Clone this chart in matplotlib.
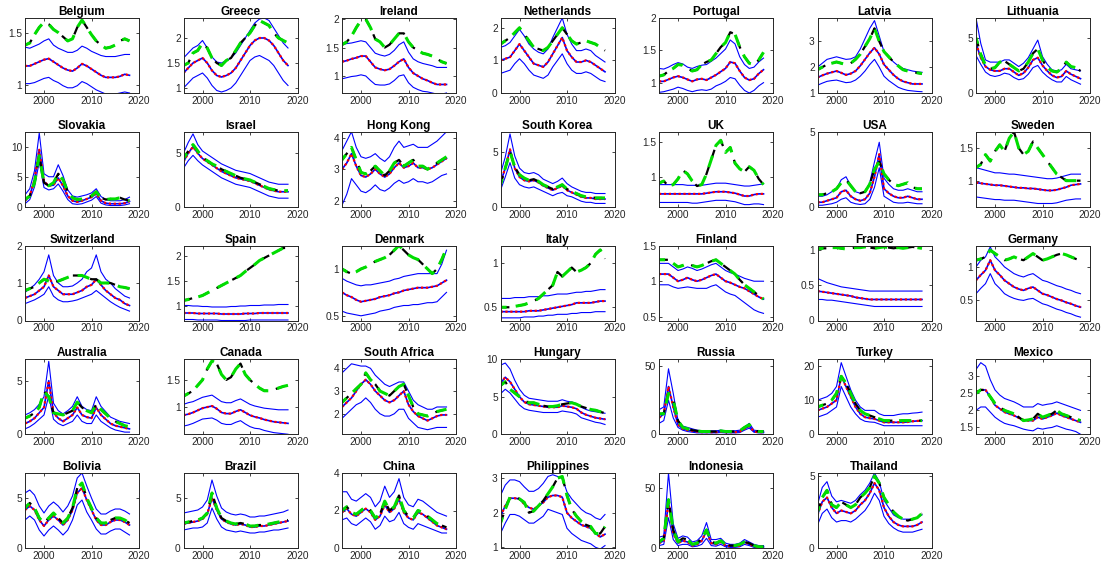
import matplotlib
matplotlib.use("Agg")
import matplotlib.pyplot as plt
import numpy as np

plt.rcParams['font.family'] = ['Liberation Sans', 'DejaVu Sans']

years = list(range(1996, 2019))

bel_act = [1.38,1.40,1.48,1.55,1.60,1.58,1.53,1.50,1.46,1.42,1.44,1.55,1.62,1.55,1.48,1.42,1.38,1.35,1.36,1.38,1.42,1.44,1.42]
bel_mid = [1.18,1.18,1.20,1.22,1.24,1.25,1.22,1.19,1.16,1.14,1.13,1.16,1.20,1.18,1.15,1.12,1.09,1.07,1.07,1.07,1.08,1.10,1.09]
bel_hi = [1.36,1.35,1.37,1.39,1.42,1.44,1.38,1.35,1.33,1.31,1.31,1.33,1.37,1.35,1.32,1.30,1.28,1.27,1.27,1.27,1.28,1.29,1.29]
bel_lo = [1.01,1.01,1.02,1.04,1.06,1.07,1.04,1.02,0.99,0.97,0.97,0.99,1.03,1.01,0.98,0.95,0.93,0.91,0.91,0.91,0.92,0.93,0.92]

grc_act = [1.45,1.50,1.70,1.75,1.90,1.80,1.60,1.50,1.45,1.55,1.60,1.75,1.90,2.00,2.10,2.25,2.35,2.30,2.25,2.10,2.00,1.95,1.90]
grc_mid = [1.30,1.40,1.50,1.55,1.60,1.50,1.35,1.25,1.22,1.25,1.30,1.40,1.55,1.70,1.85,1.95,2.00,2.00,1.95,1.85,1.70,1.55,1.45]
grc_hi = [1.60,1.70,1.80,1.85,1.95,1.80,1.62,1.52,1.50,1.55,1.60,1.70,1.85,2.00,2.15,2.30,2.38,2.40,2.35,2.20,2.05,1.90,1.80]
grc_lo = [1.00,1.10,1.20,1.25,1.30,1.20,1.05,0.95,0.92,0.95,1.00,1.10,1.25,1.40,1.55,1.62,1.65,1.60,1.55,1.45,1.30,1.15,1.05]

irl_act = [1.55,1.60,1.70,1.85,1.98,2.00,1.85,1.65,1.60,1.50,1.55,1.65,1.75,1.75,1.60,1.50,1.45,1.40,1.38,1.35,1.30,1.25,1.22]
irl_mid = [1.25,1.27,1.30,1.32,1.35,1.35,1.25,1.15,1.12,1.10,1.12,1.18,1.25,1.30,1.15,1.05,1.00,0.95,0.92,0.88,0.85,0.85,0.85]
irl_hi = [1.55,1.57,1.58,1.60,1.62,1.60,1.50,1.40,1.37,1.35,1.38,1.45,1.55,1.60,1.42,1.30,1.25,1.22,1.20,1.18,1.15,1.15,1.15]
irl_lo = [0.95,0.97,0.99,1.00,1.02,1.00,0.92,0.85,0.84,0.84,0.86,0.92,1.00,1.02,0.88,0.80,0.76,0.73,0.72,0.70,0.68,0.68,0.70]

nld_act = [1.50,1.60,1.70,1.85,2.00,1.80,1.60,1.40,1.35,1.30,1.40,1.60,1.80,2.00,1.80,1.60,1.50,1.55,1.60,1.55,1.50,1.40,1.30]
nld_mid = [1.00,1.05,1.10,1.30,1.50,1.30,1.10,0.90,0.85,0.80,0.95,1.20,1.45,1.70,1.30,1.10,0.95,0.95,1.00,0.95,0.85,0.75,0.65]
nld_hi = [1.40,1.45,1.55,1.75,1.95,1.75,1.50,1.35,1.25,1.20,1.35,1.70,2.00,2.30,1.80,1.50,1.30,1.30,1.35,1.30,1.15,1.05,0.95]
nld_lo = [0.60,0.65,0.70,0.90,1.05,0.90,0.70,0.55,0.50,0.45,0.55,0.80,1.00,1.20,0.90,0.70,0.60,0.60,0.65,0.60,0.50,0.40,0.35]

prt_act = [1.10,1.12,1.18,1.22,1.28,1.27,1.22,1.18,1.20,1.28,1.32,1.35,1.45,1.55,1.62,1.78,1.75,1.55,1.40,1.30,1.28,1.35,1.47]
prt_mid = [1.02,1.02,1.05,1.08,1.10,1.08,1.05,1.02,1.05,1.06,1.04,1.08,1.12,1.17,1.22,1.32,1.30,1.18,1.08,1.04,1.06,1.14,1.20]
prt_hi = [1.22,1.21,1.24,1.28,1.31,1.29,1.24,1.22,1.25,1.27,1.28,1.33,1.38,1.45,1.52,1.66,1.60,1.40,1.28,1.22,1.24,1.32,1.38]
prt_lo = [0.85,0.86,0.88,0.90,0.93,0.91,0.88,0.86,0.88,0.89,0.88,0.90,0.95,0.98,1.02,1.08,1.06,0.96,0.88,0.84,0.88,0.95,1.00]

lva_act = [1.90,2.00,2.10,2.15,2.20,2.15,2.10,2.15,2.30,2.50,2.80,3.10,3.50,3.00,2.60,2.40,2.20,2.05,1.90,1.85,1.80,1.78,1.75]
lva_mid = [1.60,1.68,1.75,1.80,1.85,1.78,1.70,1.75,1.85,2.05,2.30,2.55,2.75,2.50,2.10,1.90,1.70,1.55,1.45,1.40,1.35,1.35,1.35]
lva_hi = [2.00,2.15,2.30,2.35,2.40,2.35,2.30,2.32,2.40,2.70,3.10,3.50,3.80,3.20,2.60,2.40,2.20,2.05,1.95,1.90,1.85,1.82,1.80]
lva_lo = [1.30,1.38,1.45,1.48,1.50,1.45,1.40,1.42,1.50,1.65,1.85,2.10,2.30,2.00,1.65,1.48,1.35,1.22,1.15,1.10,1.08,1.06,1.05]

ltu_act = [5.0,3.5,2.5,2.2,2.3,2.8,2.9,2.6,2.3,2.0,2.2,2.8,3.6,4.0,3.0,2.3,2.0,1.9,2.2,2.8,2.4,2.3,2.0]
ltu_mid = [4.5,3.2,2.4,2.1,2.0,2.0,2.2,2.2,1.9,1.6,1.8,2.3,3.0,3.2,2.5,2.0,1.6,1.4,1.5,2.0,1.7,1.5,1.3]
ltu_hi = [6.8,4.5,3.0,2.8,2.8,2.8,3.0,3.0,2.7,2.4,2.7,3.2,4.0,4.8,3.3,2.6,2.1,2.0,2.1,2.6,2.2,2.1,2.0]
ltu_lo = [3.4,2.6,1.9,1.6,1.5,1.6,1.8,1.7,1.4,1.2,1.3,1.7,2.3,2.5,1.9,1.5,1.2,1.0,1.0,1.5,1.2,1.0,0.8]

svk_act = [1.2,1.8,4.0,8.5,4.0,3.5,4.0,5.5,4.5,2.5,1.5,1.2,1.3,1.5,1.8,2.5,1.5,1.2,1.3,1.3,1.5,1.2,1.0]
svk_mid = [1.0,1.8,4.5,9.5,4.2,3.5,3.6,4.8,3.5,1.8,1.0,0.8,1.0,1.3,1.6,2.2,1.0,0.6,0.5,0.5,0.5,0.6,0.9]
svk_hi = [2.0,3.0,6.0,12.3,5.5,5.0,5.0,7.0,5.2,2.8,1.8,1.6,1.8,2.0,2.3,3.0,1.7,1.2,1.0,1.0,1.0,1.2,1.6]
svk_lo = [0.5,1.2,3.3,7.5,3.2,2.8,3.0,3.8,2.6,1.2,0.5,0.4,0.5,0.8,1.1,1.7,0.6,0.3,0.2,0.2,0.2,0.3,0.5]

isr_act = [4.5,5.2,5.8,5.2,4.6,4.3,4.0,3.8,3.5,3.3,3.1,2.9,2.7,2.6,2.5,2.3,2.1,1.9,1.7,1.6,1.5,1.5,1.5]
isr_mid = [4.2,5.0,5.6,5.0,4.5,4.2,3.9,3.6,3.3,3.1,2.9,2.7,2.6,2.5,2.4,2.2,2.0,1.8,1.6,1.5,1.4,1.4,1.4]
isr_hi = [5.0,6.0,6.8,5.8,5.2,4.9,4.6,4.3,4.0,3.8,3.6,3.4,3.3,3.2,3.1,2.9,2.7,2.5,2.3,2.2,2.1,2.1,2.1]
isr_lo = [3.6,4.3,4.8,4.3,3.9,3.6,3.3,3.0,2.7,2.5,2.3,2.1,2.0,1.9,1.8,1.6,1.4,1.2,1.0,0.9,0.8,0.8,0.8]

hkg_act = [3.30,3.50,3.70,3.30,2.90,2.85,2.95,3.10,2.95,2.80,2.95,3.20,3.30,3.10,3.20,3.30,3.10,3.10,3.00,3.10,3.20,3.30,3.40]
hkg_mid = [3.00,3.20,3.50,3.10,2.80,2.75,2.85,3.00,2.85,2.75,2.85,3.05,3.20,3.05,3.10,3.20,3.05,3.05,3.00,3.05,3.15,3.25,3.35]
hkg_hi = [3.60,3.90,4.20,3.70,3.40,3.35,3.40,3.50,3.35,3.25,3.40,3.70,3.90,3.70,3.75,3.80,3.70,3.70,3.70,3.80,3.90,4.05,4.20]
hkg_lo = [1.85,2.20,2.70,2.50,2.30,2.25,2.35,2.50,2.35,2.30,2.40,2.55,2.65,2.55,2.60,2.70,2.60,2.60,2.55,2.60,2.70,2.80,2.85]

kor_act = [2.0,3.5,5.0,3.6,2.9,2.6,2.4,2.5,2.3,2.0,1.8,1.6,1.8,2.0,1.6,1.4,1.2,1.0,0.9,0.9,0.8,0.8,0.8]
kor_mid = [2.2,3.5,5.2,3.5,2.7,2.4,2.3,2.4,2.2,1.9,1.7,1.5,1.7,1.9,1.5,1.3,1.1,0.9,0.8,0.8,0.7,0.7,0.7]
kor_hi = [3.0,4.5,6.6,4.6,3.5,3.1,3.0,3.1,2.9,2.5,2.3,2.1,2.3,2.6,2.1,1.8,1.6,1.4,1.3,1.3,1.2,1.2,1.2]
kor_lo = [1.5,2.7,4.0,2.6,2.0,1.8,1.7,1.8,1.6,1.4,1.2,1.0,1.2,1.3,1.0,0.9,0.7,0.5,0.4,0.4,0.3,0.3,0.3]

gbr_act = [0.92,0.95,0.88,0.90,0.98,1.10,1.05,0.95,0.88,0.90,1.05,1.25,1.45,1.52,1.35,1.42,1.20,1.12,1.08,1.15,1.10,0.98,0.90]
gbr_mid = [0.77,0.77,0.77,0.77,0.77,0.77,0.77,0.77,0.77,0.77,0.78,0.79,0.80,0.80,0.80,0.79,0.78,0.76,0.74,0.74,0.76,0.77,0.77]
gbr_hi = [0.90,0.90,0.90,0.90,0.90,0.90,0.89,0.89,0.89,0.89,0.90,0.91,0.92,0.92,0.92,0.91,0.90,0.89,0.88,0.88,0.89,0.90,0.91]
gbr_lo = [0.65,0.65,0.65,0.65,0.65,0.65,0.65,0.64,0.64,0.65,0.66,0.67,0.68,0.68,0.68,0.67,0.66,0.64,0.62,0.62,0.63,0.63,0.62]

usa_act = [0.8,0.8,0.9,1.0,1.2,1.6,1.8,1.4,1.0,0.9,1.0,1.5,2.5,3.0,2.2,1.8,1.5,1.4,1.5,1.6,1.3,1.2,1.2]
usa_mid = [0.3,0.3,0.4,0.5,0.6,1.0,1.1,0.7,0.5,0.4,0.5,0.9,2.0,3.5,1.2,0.9,0.7,0.6,0.6,0.7,0.6,0.5,0.5]
usa_hi = [0.7,0.7,0.8,1.0,1.2,1.8,2.0,1.4,1.0,0.9,1.0,1.6,3.0,4.3,1.9,1.5,1.2,1.1,1.1,1.2,1.1,1.0,1.0]
usa_lo = [0.1,0.1,0.15,0.2,0.3,0.5,0.6,0.3,0.2,0.15,0.2,0.5,1.3,2.6,0.7,0.5,0.3,0.25,0.25,0.3,0.25,0.2,0.2]

swe_act = [1.20,1.25,1.40,1.30,1.45,1.55,1.45,1.65,1.75,1.50,1.40,1.45,1.60,1.50,1.40,1.30,1.20,1.10,1.05,1.00,1.00,1.00,1.00]
swe_mid = [0.97,0.96,0.95,0.94,0.93,0.93,0.92,0.91,0.90,0.89,0.89,0.88,0.88,0.87,0.86,0.85,0.85,0.86,0.88,0.90,0.93,0.94,0.95]
swe_hi = [1.20,1.18,1.16,1.14,1.12,1.12,1.11,1.10,1.10,1.09,1.08,1.07,1.06,1.05,1.04,1.03,1.03,1.04,1.06,1.08,1.10,1.10,1.10]
swe_lo = [0.75,0.74,0.73,0.72,0.71,0.71,0.70,0.70,0.70,0.69,0.68,0.67,0.66,0.65,0.65,0.65,0.65,0.66,0.68,0.70,0.71,0.72,0.72]

che_act = [0.80,0.85,0.90,1.00,1.10,1.05,1.00,1.05,1.10,1.15,1.20,1.20,1.20,1.15,1.10,1.10,1.00,1.00,1.00,0.95,0.90,0.88,0.85]
che_mid = [0.60,0.65,0.70,0.80,0.90,1.20,0.90,0.80,0.70,0.70,0.70,0.75,0.80,0.90,0.95,1.10,0.95,0.80,0.70,0.60,0.55,0.45,0.40]
che_hi = [0.75,0.85,0.95,1.10,1.30,1.75,1.20,1.00,0.90,0.90,0.92,1.00,1.10,1.30,1.40,1.75,1.30,1.10,1.00,0.85,0.75,0.65,0.60]
che_lo = [0.45,0.50,0.55,0.62,0.70,0.90,0.65,0.55,0.50,0.50,0.52,0.55,0.60,0.65,0.70,0.80,0.70,0.60,0.50,0.42,0.35,0.30,0.25]

esp_act = [1.10,1.12,1.15,1.17,1.20,1.25,1.30,1.35,1.40,1.45,1.50,1.55,1.60,1.68,1.75,1.82,1.90,1.95,2.00,2.05,2.10,2.15,2.15]
esp_mid = [0.85,0.85,0.85,0.84,0.84,0.84,0.84,0.84,0.83,0.83,0.83,0.83,0.83,0.84,0.84,0.84,0.85,0.85,0.85,0.85,0.85,0.85,0.85]
esp_hi = [1.00,1.00,0.99,0.99,0.98,0.98,0.97,0.97,0.97,0.97,0.98,0.98,0.99,0.99,1.00,1.00,1.00,1.01,1.01,1.01,1.02,1.02,1.02]
esp_lo = [0.72,0.72,0.72,0.71,0.71,0.71,0.71,0.71,0.70,0.70,0.70,0.70,0.70,0.70,0.71,0.71,0.71,0.71,0.71,0.71,0.71,0.71,0.71]

dnk_act = [1.00,0.97,0.95,0.97,1.00,1.02,1.05,1.08,1.10,1.12,1.15,1.20,1.25,1.20,1.15,1.12,1.10,1.05,1.00,0.95,1.00,1.10,1.22]
dnk_mid = [0.75,0.72,0.70,0.67,0.65,0.66,0.67,0.68,0.70,0.71,0.72,0.74,0.75,0.77,0.78,0.79,0.80,0.80,0.80,0.81,0.82,0.85,0.88]
dnk_hi = [0.90,0.87,0.85,0.83,0.82,0.83,0.83,0.84,0.85,0.86,0.87,0.89,0.90,0.92,0.93,0.94,0.95,0.95,0.95,0.95,0.95,1.05,1.20]
dnk_lo = [0.55,0.53,0.52,0.51,0.50,0.51,0.52,0.53,0.55,0.56,0.57,0.59,0.60,0.61,0.61,0.62,0.62,0.63,0.64,0.64,0.65,0.70,0.75]

ita_act = [0.50,0.50,0.50,0.51,0.52,0.53,0.55,0.57,0.60,0.65,0.70,0.75,0.90,0.85,0.90,0.95,0.90,0.92,0.95,1.00,1.10,1.15,1.05]
ita_mid = [0.45,0.45,0.45,0.45,0.45,0.45,0.46,0.46,0.46,0.47,0.48,0.49,0.50,0.51,0.52,0.53,0.55,0.55,0.55,0.55,0.56,0.57,0.57]
ita_hi = [0.60,0.60,0.60,0.61,0.61,0.61,0.62,0.62,0.62,0.63,0.63,0.64,0.65,0.65,0.65,0.66,0.67,0.67,0.68,0.68,0.69,0.70,0.70]
ita_lo = [0.38,0.38,0.38,0.38,0.38,0.39,0.39,0.39,0.40,0.40,0.41,0.41,0.42,0.42,0.42,0.43,0.43,0.44,0.44,0.44,0.45,0.45,0.45]

fin_act = [1.30,1.30,1.30,1.25,1.20,1.22,1.25,1.22,1.20,1.22,1.25,1.28,1.30,1.25,1.20,1.15,1.10,1.02,0.95,0.90,0.85,0.80,0.75]
fin_mid = [1.10,1.10,1.10,1.05,1.00,1.02,1.05,1.02,1.00,1.02,1.05,1.08,1.10,1.05,1.00,0.98,0.95,0.92,0.90,0.86,0.82,0.78,0.75]
fin_hi = [1.25,1.25,1.25,1.20,1.15,1.17,1.20,1.18,1.15,1.17,1.20,1.23,1.25,1.20,1.15,1.12,1.10,1.07,1.04,1.02,1.00,1.00,1.00]
fin_lo = [0.95,0.95,0.95,0.92,0.90,0.91,0.92,0.91,0.90,0.90,0.90,0.93,0.95,0.90,0.85,0.82,0.80,0.75,0.70,0.65,0.60,0.57,0.55]

fra_act = [1.02,1.03,1.03,1.04,1.04,1.03,1.02,1.03,1.04,1.04,1.05,1.04,1.03,1.04,1.05,1.04,1.03,1.04,1.03,1.04,1.05,1.04,1.03]
fra_mid = [0.42,0.41,0.40,0.39,0.38,0.37,0.36,0.35,0.33,0.32,0.31,0.30,0.30,0.30,0.30,0.30,0.30,0.30,0.30,0.30,0.30,0.30,0.30]
fra_hi = [0.60,0.57,0.54,0.52,0.50,0.48,0.47,0.46,0.45,0.44,0.43,0.42,0.42,0.42,0.42,0.42,0.42,0.42,0.42,0.42,0.42,0.42,0.42]
fra_lo = [0.30,0.30,0.29,0.29,0.28,0.27,0.26,0.25,0.24,0.23,0.22,0.21,0.20,0.20,0.20,0.20,0.20,0.20,0.20,0.20,0.20,0.20,0.20]

deu_act = [1.10,1.12,1.15,1.25,1.20,1.15,1.10,1.12,1.15,1.12,1.10,1.15,1.20,1.15,1.10,1.12,1.15,1.18,1.20,1.18,1.15,1.12,1.10]
deu_mid = [0.80,0.88,0.95,1.10,0.95,0.88,0.80,0.75,0.70,0.67,0.65,0.68,0.70,0.65,0.60,0.58,0.55,0.52,0.50,0.47,0.45,0.42,0.40]
deu_hi = [1.00,1.10,1.15,1.30,1.15,1.08,1.00,0.95,0.90,0.87,0.85,0.88,0.90,0.85,0.80,0.78,0.75,0.72,0.70,0.67,0.65,0.62,0.60]
deu_lo = [0.60,0.68,0.75,0.90,0.75,0.68,0.60,0.56,0.53,0.51,0.50,0.52,0.53,0.49,0.45,0.43,0.40,0.37,0.35,0.32,0.30,0.27,0.25]

aus_act = [1.5,1.7,2.0,2.5,4.0,3.5,2.0,1.9,1.8,2.0,2.2,3.0,2.5,2.2,2.0,2.8,2.3,1.9,1.5,1.2,1.0,0.8,0.7]
aus_mid = [1.0,1.2,1.5,2.0,2.5,5.0,2.0,1.5,1.2,1.5,1.8,2.5,1.8,1.6,1.5,2.5,1.8,1.4,1.0,0.8,0.7,0.6,0.5]
aus_hi = [1.8,2.0,2.3,2.8,3.5,6.8,2.9,2.2,1.9,2.2,2.6,3.5,2.6,2.3,2.2,3.5,2.6,2.1,1.6,1.4,1.2,1.1,1.0]
aus_lo = [0.5,0.7,1.0,1.4,1.8,3.6,1.4,1.0,0.8,1.0,1.2,1.8,1.2,1.0,1.0,1.8,1.2,0.9,0.6,0.4,0.3,0.2,0.2]

can_act = [1.20,1.25,1.30,1.40,1.50,1.70,1.85,1.80,1.60,1.50,1.55,1.70,1.80,1.60,1.50,1.42,1.35,1.30,1.30,1.32,1.35,1.38,1.40]
can_mid = [0.85,0.87,0.90,0.94,0.98,1.00,1.02,0.97,0.90,0.88,0.88,0.92,0.95,0.90,0.85,0.82,0.80,0.77,0.75,0.73,0.72,0.71,0.70]
can_hi = [1.05,1.08,1.10,1.14,1.18,1.20,1.22,1.16,1.10,1.08,1.08,1.12,1.15,1.10,1.05,1.02,1.00,0.98,0.97,0.96,0.95,0.95,0.95]
can_lo = [0.65,0.67,0.70,0.74,0.78,0.79,0.80,0.76,0.70,0.68,0.68,0.72,0.75,0.69,0.64,0.61,0.60,0.57,0.55,0.53,0.52,0.51,0.50]

zaf_act = [2.5,2.7,2.9,3.1,3.3,3.8,3.5,3.3,3.0,2.9,2.8,3.0,3.2,3.3,2.8,2.3,2.0,1.95,1.9,2.0,2.1,2.15,2.2]
zaf_mid = [2.3,2.5,2.7,3.0,3.3,3.5,3.3,3.0,2.8,2.6,2.5,2.6,2.8,3.0,2.4,2.1,1.9,1.8,1.7,1.8,1.9,1.95,1.95]
zaf_hi = [3.8,4.0,4.2,4.15,4.1,4.1,4.0,3.7,3.5,3.3,3.2,3.3,3.4,3.4,3.0,2.6,2.4,2.3,2.2,2.2,2.3,2.3,2.3]
zaf_lo = [1.8,2.0,2.2,2.4,2.5,2.7,2.5,2.2,2.0,1.9,1.9,2.0,2.2,2.2,1.8,1.6,1.4,1.35,1.3,1.35,1.4,1.4,1.4]

hun_act = [6.5,7.0,6.0,5.5,5.0,4.5,4.2,4.2,4.0,3.8,3.7,3.7,3.8,4.0,4.1,4.2,4.0,3.7,3.5,3.3,3.2,3.0,2.8]
hun_mid = [6.8,7.6,7.0,6.0,5.0,4.3,4.0,3.9,3.8,3.7,3.6,3.6,3.6,3.8,3.7,3.6,3.4,2.9,2.6,2.4,2.2,2.1,2.0]
hun_hi = [9.2,9.5,8.7,7.2,6.0,5.2,4.8,4.7,4.6,4.5,4.4,4.4,4.4,4.6,4.4,4.3,4.1,3.6,3.3,3.1,3.0,2.9,2.8]
hun_lo = [5.4,6.0,5.5,4.7,3.9,3.4,3.2,3.1,3.0,2.9,2.9,2.9,2.9,3.1,3.0,2.9,2.7,2.2,2.0,1.8,1.6,1.5,1.3]

rus_act = [15,15,30,25,10,5,4,3,2.5,2,2,2,2,2.5,2,2,2,2.5,5,7,3,2,2]
rus_mid = [12,15,35,20,7,4,3,2.5,2,1.5,1.5,1.5,1.5,2,1.5,1.5,1.5,2,4,6,2,1.5,1.5]
rus_hi = [18,20,48,30,10,6,5,4,3,2.5,2.5,2.5,2.5,3,2.5,2.5,2.5,3,5,8,3,2.5,2.5]
rus_lo = [8,10,25,12,5,3,2,1.5,1,1,1,1,1,1.2,1,1,1,1.2,3,4.5,1.5,1,1]

tur_act = [8,8.5,9,10,12,17,15,12,9,7,6,5.5,5,4.5,4,4,4,4,4,4,4,4,4]
tur_mid = [7,7.5,8,9,10,17,14,11,8,6,5,4.7,4.5,4,3.5,3.5,3.5,3.5,3.5,3.6,3.8,3.9,4]
tur_hi = [10,10.5,11,12,14,21,17,13,10,8,7,7,7,6,5.5,5.5,5.5,5.8,6,6,6.2,6.3,6.5]
tur_lo = [5,5.5,6,7,8,14,11,8,6,4.5,3.8,3.6,3.5,3,2.5,2.5,2.5,2.5,2.5,2.5,2.5,2.5,2.5]

mex_act = [2.50,2.60,2.60,2.40,2.20,2.10,2.00,1.95,1.90,1.80,1.70,1.72,1.75,1.90,1.80,1.85,1.90,2.00,1.90,1.85,1.80,1.75,1.70]
mex_mid = [2.55,2.60,2.60,2.40,2.15,2.05,1.95,1.90,1.85,1.78,1.72,1.70,1.70,1.80,1.75,1.80,1.85,1.92,1.85,1.80,1.75,1.70,1.65]
mex_hi = [3.20,3.40,3.30,2.90,2.60,2.45,2.35,2.30,2.25,2.18,2.10,2.10,2.10,2.20,2.15,2.18,2.20,2.25,2.20,2.15,2.10,2.05,2.00]
mex_lo = [2.00,2.10,2.10,1.95,1.80,1.70,1.62,1.58,1.55,1.50,1.45,1.42,1.40,1.48,1.45,1.48,1.50,1.55,1.50,1.45,1.42,1.38,1.30]

bol_act = [4.0,4.5,4.0,3.0,2.5,3.0,3.5,3.0,2.5,3.0,4.0,6.0,6.5,5.0,4.0,3.0,2.5,2.5,2.8,3.0,3.0,2.8,2.5]
bol_mid = [3.8,4.2,3.8,2.8,2.2,2.8,3.2,2.8,2.3,2.8,3.8,5.5,6.0,4.8,3.8,2.8,2.3,2.3,2.6,2.8,2.8,2.6,2.3]
bol_hi = [5.5,5.8,5.3,4.2,3.5,4.2,4.6,4.2,3.6,4.2,5.2,7.0,7.5,6.2,5.0,3.9,3.4,3.4,3.7,3.9,3.9,3.7,3.4]
bol_lo = [2.8,3.2,2.8,1.8,1.2,1.8,2.2,1.8,1.3,1.8,2.8,4.3,4.8,3.6,2.8,1.9,1.4,1.4,1.7,1.9,1.9,1.6,1.3]

bra_act = [2.5,2.6,2.7,2.8,3.0,3.5,5.5,4.0,3.0,2.7,2.5,2.4,2.5,2.4,2.2,2.2,2.3,2.3,2.4,2.5,2.6,2.7,2.8]
bra_mid = [2.4,2.5,2.6,2.7,2.9,3.4,5.0,3.8,2.9,2.6,2.4,2.3,2.4,2.3,2.1,2.1,2.2,2.2,2.3,2.4,2.5,2.6,2.7]
bra_hi = [3.5,3.6,3.7,3.8,4.1,4.8,6.8,5.2,4.0,3.6,3.4,3.3,3.4,3.3,3.1,3.1,3.2,3.2,3.3,3.4,3.5,3.6,3.8]
bra_lo = [1.8,1.9,2.0,2.0,2.1,2.5,4.0,2.9,2.1,1.8,1.7,1.6,1.7,1.6,1.5,1.5,1.6,1.6,1.7,1.8,1.8,1.9,2.0]

chn_act = [2.0,2.2,1.9,1.8,2.0,2.2,2.0,1.6,1.8,2.5,2.0,2.2,2.8,2.0,1.7,1.6,2.0,1.9,1.7,1.5,1.3,1.2,1.1]
chn_mid = [1.9,2.1,1.8,1.7,1.9,2.1,1.9,1.5,1.7,2.3,1.9,2.1,2.6,1.9,1.6,1.5,1.9,1.8,1.6,1.4,1.2,1.1,1.0]
chn_hi = [3.0,3.0,2.6,2.5,2.7,2.9,2.7,2.2,2.5,3.3,2.7,3.0,3.7,2.7,2.3,2.2,2.6,2.5,2.3,2.1,1.9,1.8,1.7]
chn_lo = [1.5,1.6,1.3,1.2,1.4,1.6,1.4,1.0,1.2,1.7,1.4,1.5,1.9,1.3,1.1,1.0,1.3,1.2,1.1,1.0,0.9,0.8,0.8]

phl_act = [1.7,2.1,2.45,2.45,2.4,2.3,2.0,2.05,2.2,2.35,2.55,2.75,3.0,3.05,2.5,2.1,1.9,1.75,1.65,1.6,1.4,1.4,1.6]
phl_mid = [1.9,2.2,2.42,2.42,2.4,2.25,2.15,2.1,2.2,2.3,2.45,2.5,2.5,2.45,2.0,1.85,1.75,1.65,1.6,1.55,1.4,1.3,1.38]
phl_hi = [2.5,2.8,2.95,2.95,2.9,2.75,2.62,2.62,2.7,2.85,3.05,3.1,3.05,3.0,2.6,2.4,2.25,2.1,2.0,1.95,1.85,1.8,1.95]
phl_lo = [1.4,1.7,1.95,1.95,1.9,1.8,1.7,1.7,1.8,1.9,2.1,2.05,2.0,1.95,1.55,1.4,1.3,1.2,1.15,1.1,1.0,0.95,1.05]

idn_act = [5,8,40,15,5,8,7,3,4,8,15,5,4,6,3,2,2,3,5,4,2,1,1]
idn_mid = [4,6,38,12,4,6,5,2,3,6,14,4,3,5,2,1.5,1.5,2,5,3,1.5,1,1]
idn_hi = [9,10,62,20,8,10,9,5,6,10,21,7,7,8,4,3,3,4,7,5,3,2,2]
idn_lo = [2,3,25,7,2,3,3,1,1.5,3,8,2,1.5,3,1,0.5,0.5,1,3,2,0.5,0.3,0.3]

tha_act = [2.5,3.5,4.0,3.0,2.8,3.2,3.0,2.8,3.0,3.5,3.8,4.2,5.0,4.5,3.5,3.0,2.5,2.2,2.0,1.9,2.0,2.1,2.4]
tha_mid = [2.3,3.2,3.5,2.8,2.4,2.6,2.5,2.4,2.6,3.0,3.3,3.8,4.5,4.0,2.8,2.2,1.8,1.6,1.5,1.5,1.5,1.6,1.8]
tha_hi = [3.0,4.2,4.6,3.6,3.2,3.3,3.2,3.1,3.3,3.7,4.0,4.5,5.2,4.6,3.3,2.8,2.3,2.1,2.0,2.0,2.0,2.1,2.3]
tha_lo = [1.6,2.4,2.7,2.1,1.8,1.9,1.9,1.8,2.0,2.3,2.6,3.1,3.8,3.3,2.2,1.7,1.4,1.2,1.1,1.1,1.1,1.2,1.3]

# name, series, y limits, y ticks
panels = [
    ("Belgium", bel_act, bel_mid, bel_hi, bel_lo, (0.92, 1.64), [1, 1.5]),
    ("Greece", grc_act, grc_mid, grc_hi, grc_lo, (0.9, 2.4), [1, 1.5, 2]),
    ("Ireland", irl_act, irl_mid, irl_hi, irl_lo, (0.7, 2.02), [1, 1.5, 2]),
    ("Netherlands", nld_act, nld_mid, nld_hi, nld_lo, (0, 2.3), [0, 1, 2]),
    ("Portugal", prt_act, prt_mid, prt_hi, prt_lo, (0.84, 2.0), [1, 1.5, 2]),
    ("Latvia", lva_act, lva_mid, lva_hi, lva_lo, (1, 3.9), [1, 2, 3]),
    ("Lithuania", ltu_act, ltu_mid, ltu_hi, ltu_lo, (0, 6.8), [0, 5]),
    ("Slovakia", svk_act, svk_mid, svk_hi, svk_lo, (0, 12.5), [0, 5, 10]),
    ("Israel", isr_act, isr_mid, isr_hi, isr_lo, (0, 7), [0, 5]),
    ("Hong Kong", hkg_act, hkg_mid, hkg_hi, hkg_lo, (1.8, 4.2), [2, 3, 4]),
    ("South Korea", kor_act, kor_mid, kor_hi, kor_lo, (0, 6.8), [0, 5]),
    ("UK", gbr_act, gbr_mid, gbr_hi, gbr_lo, (0.59, 1.64), [1, 1.5]),
    ("USA", usa_act, usa_mid, usa_hi, usa_lo, (0, 5), [0, 5]),
    ("Sweden", swe_act, swe_mid, swe_hi, swe_lo, (0.6, 1.75), [1, 1.5]),
    ("Switzerland", che_act, che_mid, che_hi, che_lo, (0, 2), [0, 1, 2]),
    ("Spain", esp_act, esp_mid, esp_hi, esp_lo, (0.7, 2.2), [1, 1.5, 2]),
    ("Denmark", dnk_act, dnk_mid, dnk_hi, dnk_lo, (0.45, 1.25), [0.5, 1]),
    ("Italy", ita_act, ita_mid, ita_hi, ita_lo, (0.35, 1.2), [0.5, 1]),
    ("Finland", fin_act, fin_mid, fin_hi, fin_lo, (0.45, 1.5), [0.5, 1, 1.5]),
    ("France", fra_act, fra_mid, fra_hi, fra_lo, (0, 1.07), [0, 0.5, 1]),
    ("Germany", deu_act, deu_mid, deu_hi, deu_lo, (0.2, 1.32), [0.5, 1]),
    ("Australia", aus_act, aus_mid, aus_hi, aus_lo, (0, 7), [0, 5]),
    ("Canada", can_act, can_mid, can_hi, can_lo, (0.5, 1.88), [1, 1.5]),
    ("South Africa", zaf_act, zaf_mid, zaf_hi, zaf_lo, (1.1, 4.4), [2, 3, 4]),
    ("Hungary", hun_act, hun_mid, hun_hi, hun_lo, (0, 10), [0, 5, 10]),
    ("Russia", rus_act, rus_mid, rus_hi, rus_lo, (0, 55), [0, 50]),
    ("Turkey", tur_act, tur_mid, tur_hi, tur_lo, (0, 22), [0, 10, 20]),
    ("Mexico", mex_act, mex_mid, mex_hi, mex_lo, (1.3, 3.5), [1.5, 2, 2.5, 3]),
    ("Bolivia", bol_act, bol_mid, bol_hi, bol_lo, (0, 7.5), [0, 5]),
    ("Brazil", bra_act, bra_mid, bra_hi, bra_lo, (0, 7.5), [0, 5]),
    ("China", chn_act, chn_mid, chn_hi, chn_lo, (0, 4), [0, 2, 4]),
    ("Philippines", phl_act, phl_mid, phl_hi, phl_lo, (0.98, 3.15), [1, 2, 3]),
    ("Indonesia", idn_act, idn_mid, idn_hi, idn_lo, (0, 62), [0, 50]),
    ("Thailand", tha_act, tha_mid, tha_hi, tha_lo, (0, 5.2), [0, 5]),
]

W, H = 1106, 568
fig = plt.figure(figsize=(W / 100, H / 100), dpi=100)
edge = (0.15, 0.15, 0.15)

for i, (name, act, mid, hi, lo, ylim, yt) in enumerate(panels):
    r, c = divmod(i, 7)
    left = 25 + c * 158.5
    top = 18 + r * 113.75
    ax = fig.add_axes([left / W, 1 - (top + 75) / H, 114 / W, 75 / H])
    ax.plot(years, hi, color='blue', lw=0.8)
    ax.plot(years, lo, color='blue', lw=0.8)
    ax.plot(years, mid, color='blue', lw=1.2)
    ax.plot(years, mid, color='red', lw=1.6, linestyle=(0, (1, 1.2)))
    ax.plot(years, act, color='black', lw=1.6, linestyle=(0, (4, 4)))
    ax.plot(years, act, color='#00dd00', lw=2.2, linestyle=(2, (4, 3)))
    ax.set_xlim(1996, 2020)
    ax.set_ylim(*ylim)
    ax.set_xticks([2000, 2010, 2020])
    ax.set_yticks(yt)
    ax.set_yticklabels([('%g' % v) for v in yt])
    ax.tick_params(direction='in', length=2, width=0.6, top=True, right=True,
                   labelsize=7.3, colors=edge, labelcolor=edge, pad=2)
    for s in ax.spines.values():
        s.set_color(edge)
        s.set_linewidth(0.7)
    ax.set_title(name, fontsize=8.5, fontweight='bold', pad=2)

fig.savefig("out.png", dpi=100)
